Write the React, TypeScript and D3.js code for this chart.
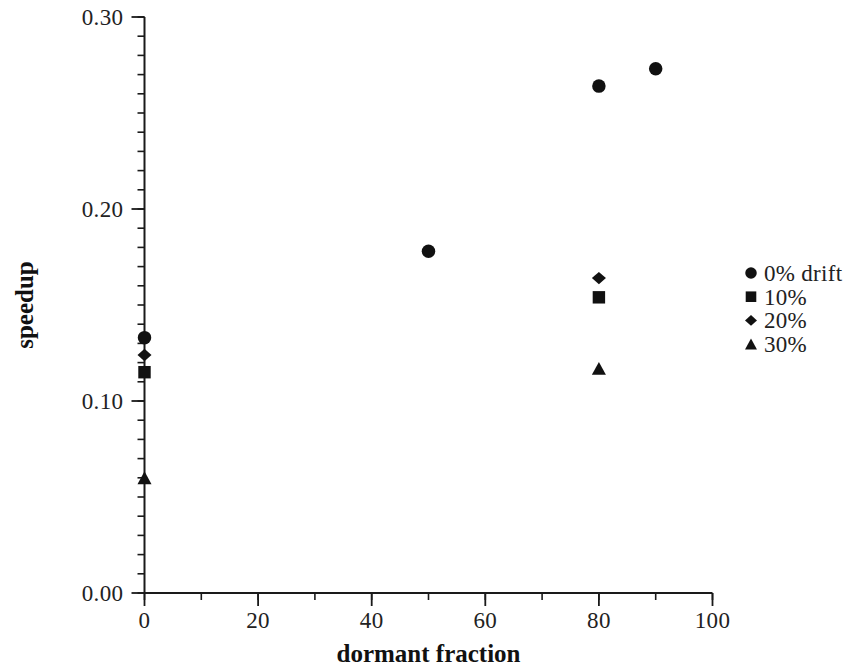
import React from "react";
import * as d3 from "d3";

const seriesNames = ["0% drift", "10%", "20%", "30%"];
const seriesShapes = ["circle", "square", "diamond", "triangle"];
const driftX0 = [0, 50, 80, 90];
const driftY0 = [0.133, 0.178, 0.264, 0.273];
const driftX10 = [0, 80];
const driftY10 = [0.115, 0.154];
const driftX20 = [0, 80];
const driftY20 = [0.124, 0.164];
const driftX30 = [0, 80];
const driftY30 = [0.06, 0.117];
const xTicks = [0, 20, 40, 60, 80, 100];
const yTicks = [0, 0.1, 0.2, 0.3];

const seriesX = [driftX0, driftX10, driftX20, driftX30];
const seriesY = [driftY0, driftY10, driftY20, driftY30];

const FONT = "'Liberation Serif', 'Times New Roman', serif";

function Marker({ shape, x, y, s }: { shape: string; x: number; y: number; s: number }) {
  if (shape === "circle") return <circle cx={x} cy={y} r={s * 0.5} fill="#111" />;
  if (shape === "square")
    return <rect x={x - s * 0.46} y={y - s * 0.46} width={s * 0.92} height={s * 0.92} fill="#111" />;
  if (shape === "diamond") {
    const w = s * 0.52, h = s * 0.46;
    return <path d={`M${x},${y - h}L${x + w},${y}L${x},${y + h}L${x - w},${y}Z`} fill="#111" />;
  }
  const w = s * 0.52, h = s * 0.48;
  return <path d={`M${x},${y - h}L${x + w},${y + h}L${x - w},${y + h}Z`} fill="#111" />;
}

export default function App() {
  const x = d3.scaleLinear().domain([0, 100]).range([144.5, 712.5]);
  const y = d3.scaleLinear().domain([0, 0.3]).range([593, 17]);
  const xMinor = d3.range(0, 101, 10);
  const yMinor = d3.range(0, 31).map((i) => i / 100);
  const stroke = "#1a1a1a";
  return (
    <svg
      width={848}
      height={670}
      style={{ position: "absolute", left: 0, top: 0, background: "#fff" }}
    >
      {/* y axis */}
      <line x1={x(0)} x2={x(0)} y1={y(0.3)} y2={y(0)} stroke={stroke} strokeWidth={2} />
      {yMinor.map((v, i) => (
        <line key={"ym" + i} x1={x(0) - 7} x2={x(0)} y1={y(v)} y2={y(v)} stroke={stroke} strokeWidth={1.6} />
      ))}
      {yTicks.map((v, i) => (
        <g key={"yt" + i}>
          <line x1={x(0) - 13} x2={x(0)} y1={y(v)} y2={y(v)} stroke={stroke} strokeWidth={1.8} />
          <text x={x(0) - 21} y={y(v)} dy="0.34em" textAnchor="end" fontFamily={FONT} fontSize={23} letterSpacing={0.4} fill="#222">
            {d3.format(".2f")(v)}
          </text>
        </g>
      ))}
      {/* x axis */}
      <line x1={x(0)} x2={x(100)} y1={y(0)} y2={y(0)} stroke={stroke} strokeWidth={2} />
      {xMinor.map((v, i) => (
        <line key={"xm" + i} x1={x(v)} x2={x(v)} y1={y(0)} y2={y(0) + 7} stroke={stroke} strokeWidth={1.6} />
      ))}
      {xTicks.map((v, i) => (
        <g key={"xt" + i}>
          <line x1={x(v)} x2={x(v)} y1={y(0)} y2={y(0) + 13} stroke={stroke} strokeWidth={1.8} />
          <text x={x(v)} y={628} textAnchor="middle" fontFamily={FONT} fontSize={23} letterSpacing={0.4} fill="#222">
            {v}
          </text>
        </g>
      ))}
      <text
        x={(x(0) + x(100)) / 2}
        y={662}
        textAnchor="middle"
        fontFamily={FONT}
        fontSize={25}
        fontWeight="bold"
        fill="#111"
      >
        dormant fraction
      </text>
      <text
        transform={`translate(33,${(y(0) + y(0.3)) / 2}) rotate(-90)`}
        textAnchor="middle"
        fontFamily={FONT}
        fontSize={25}
        fontWeight="bold"
        fill="#111"
      >
        speedup
      </text>
      {/* points */}
      {seriesX.map((xs, si) =>
        xs.map((xv, j) => (
          <Marker key={si + "-" + j} shape={seriesShapes[si]} x={x(xv)} y={y(seriesY[si][j])} s={13.5} />
        ))
      )}
      {/* legend */}
      {seriesNames.map((name, i) => (
        <g key={"lg" + i}>
          <Marker shape={seriesShapes[i]} x={751} y={273 + i * 23.7} s={11.5} />
          <text x={764} y={273 + i * 23.7} dy="0.34em" fontFamily={FONT} fontSize={23} letterSpacing={0.3} fill="#222">
            {name}
          </text>
        </g>
      ))}
    </svg>
  );
}
